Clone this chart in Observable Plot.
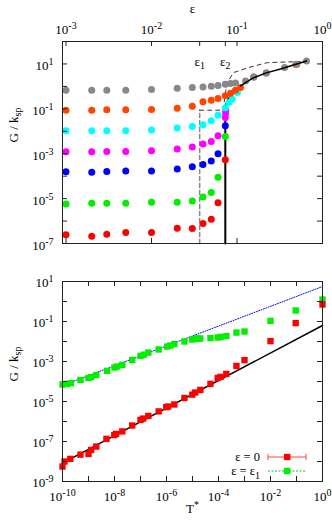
<!DOCTYPE html>
<html><head><meta charset="utf-8">
<script src="https://cdn.jsdelivr.net/npm/d3@7"></script>
<script src="https://cdn.jsdelivr.net/npm/@observablehq/plot@0.6"></script>
<style>
body{margin:0;background:#fff;}
#wrap{width:332px;height:523px;overflow:hidden;}
#wrap svg{display:block;}
</style></head><body><div id="wrap"></div>
<script>
// ---------- top panel data ----------
const eps = [0.001,0.002,0.003,0.005,0.01,0.02,0.03,0.04,0.05,0.06,0.073];
const gRed     = [2.44e-7,2.11e-7,2.59e-7,3.08e-7,3.08e-7,4.8e-7,4.64e-7,7.7e-7,1.2e-6,6.6e-6,5.4e-4];
const gGreen   = [5.8e-6,6.2e-6,6.2e-6,6.2e-6,6.85e-6,6.85e-6,7.9e-6,1.19e-5,1.85e-5,8.9e-5,5.9e-3];
const gBlue    = [1.58e-4,1.48e-4,1.63e-4,1.7e-4,1.7e-4,2.09e-4,2.64e-4,3.34e-4,4.74e-4,1.0e-3,0.0176];
const gMagenta = [0.00123,0.00123,0.00127,0.00127,0.00136,0.00162,0.00199,0.0027,0.00352,0.0063,0.041];
const gCyan    = [0.0105,0.0105,0.0105,0.0105,0.0113,0.0139,0.0163,0.0194,0.0293,0.0514,0.111];
const gOrange  = [0.0875,0.0875,0.09,0.09,0.093,0.107,0.132,0.205,0.244,0.287,0.378];
const gGray    = [0.68,0.68,0.68,0.68,0.72,0.83,0.89,0.95,1.02,1.1,1.25];
// extra points along the upper branch
const epsMagentaX = [0.0735,0.0738,0.157];  const gMagentaX = [0.065,0.09,2.6];
const epsCyanX    = [0.0805,0.088,0.101];   const gCyanX    = [0.19,0.27,0.53];
const epsOrangeX  = [0.084,0.096,0.11,0.22,0.49]; const gOrangeX = [0.5,0.68,0.885,3.9,9.5];
const epsGrayX    = [0.084,0.096,0.126,0.157,0.22,0.36,0.5,0.65];
const gGrayX      = [1.33,1.4,1.76,2.6,3.9,6.9,9.7,13.6];
const eps1 = 0.0366, eps2 = 0.073;
// critical (solid black) line
const critEps = [eps2,eps2,0.0795,0.089,0.11,0.155,0.22,0.323,0.5,0.65];
const critG   = [1e-7,0.136,0.28,0.46,1.05,2.4,4,6,10,13.6];
// dashed boundary
const dashVertEps = [eps1,eps1];          const dashVertG = [1e-7,0.087];
const dashEps = [eps1,0.069,eps2,0.077,0.091,0.136,0.226,0.386,0.55];
const dashG   = [0.087,0.087,0.5,1.48,4.1,6.9,11.4,12.3,12.6];
const topXTickVals = [1e-3,1e-2,eps1,eps2,1e-1];
const topXBotTickVals = [1e-3,1e-2,1e-1];
const topXLabels = [1e-3,1e-2,1e-1,1];
const topYTickVals = [1e-6,1e-5,1e-4,1e-3,1e-2,1e-1,1,10];
const topYLabels = [10,1e-1,1e-3,1e-5,1e-7];

// ---------- bottom panel data ----------
const T0 = [1e-10,1.2e-10,2e-10,4.9e-10,1e-9,1.26e-9,2e-9,4.9e-9,9.8e-9,1.15e-8,2e-8,4.8e-8,1e-7,1.26e-7,2e-7,5e-7,9.8e-7,1.15e-6,2e-6,4.9e-6,9.8e-6,1.26e-5,2e-5,4.9e-5,9.3e-5,1.2e-4,2e-4,4.9e-4,1e-3,1e-2,9.3e-2,1];
const G0 = [5.6e-9,1.0e-8,1.35e-8,2.2e-8,2.4e-8,3.8e-8,5.6e-8,1.35e-7,2.1e-7,2.4e-7,3.2e-7,6.3e-7,1.2e-6,1.4e-6,1.9e-6,3.2e-6,5.2e-6,5.6e-6,7.1e-6,1.5e-5,2.2e-5,2.8e-5,3.8e-5,7.6e-5,1.5e-4,1.7e-4,2.4e-4,6.0e-4,1.17e-3,0.0105,0.083,0.71];
const T1 = [1e-10,1.5e-10,2.1e-10,4.9e-10,1e-9,1.26e-9,2e-9,5.2e-9,1e-8,1.26e-8,2e-8,4.8e-8,1e-7,1.35e-7,2e-7,5e-7,1.07e-6,1.4e-6,2e-6,4.9e-6,9.8e-6,1.23e-5,1.6e-5,2e-5,4.9e-5,9.3e-5,1.2e-4,2e-4,4.9e-4,1e-3,1e-2,9.3e-2,1];
const G1 = [7.1e-5,7.6e-5,8.3e-5,1.2e-4,1.5e-4,1.66e-4,2.1e-4,3.4e-4,5.0e-4,5.6e-4,6.8e-4,1.2e-3,1.9e-3,2.2e-3,2.8e-3,4.0e-3,5.6e-3,6.3e-3,7.4e-3,0.010,0.0126,0.0135,0.0141,0.0141,0.0148,0.0158,0.017,0.0186,0.028,0.0316,0.107,0.355,1.26];
const fitT  = [1e-10,1];
const fit0G = [8.3e-9,0.063];
const fit1G = [6.3e-5,5.6];
const botXTickVals = [1e-9,1e-8,1e-7,1e-6,1e-5,1e-4,1e-3,1e-2,1e-1];
const botXLabels = [1e-10,1e-8,1e-6,1e-4,1e-2,1];
const botYTickVals = [1e-8,1e-7,1e-6,1e-5,1e-4,1e-3,1e-2,1e-1,1];
const botYLabels = [10,1e-1,1e-3,1e-5,1e-7,1e-9];
const legendLabels = ["ε = 0","ε = ε_{1}"];

// ---------- helpers ----------
const zip = (xs, ys, extra={}) => xs.map((x,i)=>({x, y: ys[i], ...extra}));
const expFmt = d => `10^{${Math.round(Math.log10(d))}}`;
const FONT = "'Liberation Serif','Times New Roman',serif";
function rich(svg){
  d3.select(svg).selectAll("text").each(function(){
    const s = this.textContent;
    if(!/[\^_]\{/.test(s)) return;
    const t = d3.select(this); t.text(null);
    const re = /([\^_])\{([^}]*)\}/g; let last=0, m, shift=0;
    const add=(str,dy,size)=>{const ts=t.append("tspan").text(str); if(dy) ts.attr("dy",dy); if(size) ts.attr("font-size",size);};
    while((m=re.exec(s))){
      if(m.index>last){ add(s.slice(last,m.index), shift? -shift : null); shift=0; }
      const d = m[1]==="^" ? -5 : 3.5;
      add(m[2], d-shift, 10); shift=d;
      last = re.lastIndex;
    }
    if(last<s.length) add(s.slice(last), shift? -shift : null);
  });
}

const series = [
  {c:"#ff0000", e:eps, g:gRed},
  {c:"#00ee00", e:eps, g:gGreen},
  {c:"#0000ff", e:eps, g:gBlue},
  {c:"#ff00ff", e:eps.concat(epsMagentaX), g:gMagenta.concat(gMagentaX)},
  {c:"#00ffff", e:eps.concat(epsCyanX), g:gCyan.concat(gCyanX)},
  {c:"#ff4500", e:eps.concat(epsOrangeX), g:gOrange.concat(gOrangeX)},
  {c:"#888888", e:eps.concat(epsGrayX), g:gGray.concat(gGrayX)}
];
const topRows = series.flatMap(s => zip(s.e, s.g, {c: s.c}));
const crit = zip(critEps, critG);
const critLow = crit.slice(0,5), critHigh = crit.slice(4);

const style = {fontFamily: FONT, fontSize: "13px", background: "#fff", overflow: "visible", color: "#000"};

const topH = 250, topMT = 41, topMB = 7, ML = 62, MR = 10;
const topInner = topH - topMT - topMB, innerW = 332 - ML - MR;

const topSvg = Plot.plot({
  width: 332, height: topH, marginTop: topMT, marginBottom: topMB, marginLeft: ML, marginRight: MR,
  style,
  x: {type: "log", domain: [0.00091, 1]},
  y: {type: "log", domain: [1e-7, 100]},
  color: {type: "identity"},
  marks: [
    Plot.line(zip(dashVertEps, dashVertG), {x:"x", y:"y", stroke:"#888", strokeWidth:1.5, strokeDasharray:"4,3"}),
    Plot.line(zip(dashEps, dashG), {x:"x", y:"y", stroke:"#333", strokeWidth:1, strokeDasharray:"4,4"}),
    Plot.line(critLow, {x:"x", y:"y", stroke:"#000", strokeWidth:2}),
    Plot.dot(topRows, {x:"x", y:"y", fill:"c", r:3.5}),
    Plot.line(critHigh, {x:"x", y:"y", stroke:"#000", strokeWidth:1.5}),
    Plot.tickX(topXTickVals, {x: d=>d, insetBottom: topInner-5, stroke:"#222"}),
    Plot.tickX(topXBotTickVals, {x: d=>d, insetTop: topInner-5, stroke:"#222"}),
    Plot.tickY(topYTickVals, {y: d=>d, insetRight: innerW-5, stroke:"#222"}),
    Plot.tickY(topYTickVals, {y: d=>d, insetLeft: innerW-5, stroke:"#222"}),
    Plot.axisX({anchor:"top", ticks: topXLabels, tickSize: 0, tickPadding: 8, tickFormat: expFmt, label: null}),
    Plot.axisY({anchor:"left", ticks: topYLabels, tickSize: 0, tickPadding: 9, dy: 2, tickFormat: expFmt, label: null}),
    Plot.text([{e:eps1, t:"ε_{1}"},{e:eps2, t:"ε_{2}"}], {x:"e", text:"t", frameAnchor:"top", lineAnchor:"bottom", dy: 24, fontSize: 13}),
    Plot.text(["ε"], {frameAnchor:"top", lineAnchor:"bottom", dy: -29, fontSize: 13}),
    Plot.text(["G / k_{sp}"], {frameAnchor:"left", dx: -49, rotate: -90, fontSize: 13}),
    Plot.frame({stroke:"#222"})
  ]
});

const botH = 273, botMT = 31, botMB = 42;
const botInner = botH - botMT - botMB;
const botSvg = Plot.plot({
  width: 332, height: botH, marginTop: botMT, marginBottom: botMB, marginLeft: ML, marginRight: MR,
  style,
  x: {type: "log", domain: [1e-10, 1]},
  y: {type: "log", domain: [1e-9, 10]},
  marks: [
    Plot.line(zip(fitT, fit1G), {x:"x", y:"y", stroke:"#0000ff", strokeWidth:1, strokeDasharray:"1,1.5"}),
    Plot.line(zip(fitT, fit0G), {x:"x", y:"y", stroke:"#000", strokeWidth:1.5}),
    Plot.dot(zip(T1, G1), {x:"x", y:"y", symbol:"square", fill:"#00ee00", r:3.6}),
    Plot.dot(zip(T0, G0), {x:"x", y:"y", symbol:"square", fill:"#ff0000", r:3.6}),
    Plot.tickX(botXTickVals, {x: d=>d, insetBottom: botInner-5, stroke:"#222"}),
    Plot.tickX(botXTickVals, {x: d=>d, insetTop: botInner-5, stroke:"#222"}),
    Plot.tickY(botYTickVals, {y: d=>d, insetRight: innerW-5, stroke:"#222"}),
    Plot.tickY(botYTickVals, {y: d=>d, insetLeft: innerW-5, stroke:"#222"}),
    Plot.axisX({anchor:"bottom", ticks: botXLabels, tickSize: 0, tickPadding: 10, tickFormat: expFmt, label: null}),
    Plot.axisY({anchor:"left", ticks: botYLabels, tickSize: 0, tickPadding: 9, dy: 1, tickFormat: expFmt, label: null}),
    Plot.text(["T^{*}"], {frameAnchor:"bottom", lineAnchor:"bottom", dy: 31, fontSize: 13}),
    Plot.text(["G / k_{sp}"], {frameAnchor:"left", dx: -49, rotate: -90, fontSize: 13}),
    Plot.frame({stroke:"#222"})
  ]
});

// legend (inside bottom panel, lower right)
{
  const g = d3.select(botSvg).append("g").attr("font-family", FONT).attr("font-size", 12.5);
  const items = [
    {label: legendLabels[0], color:"#ff0000", line:"#ff4444", dash:null, caps:true, y:207},
    {label: legendLabels[1], color:"#00ee00", line:"#00cc00", dash:"2,1.5", caps:false, y:221}
  ];
  for (const it of items) {
    g.append("text").attr("x", 260).attr("y", it.y).attr("dy","0.32em").attr("text-anchor","end").text(it.label);
    const l = g.append("line").attr("x1",268).attr("x2",306).attr("y1",it.y).attr("y2",it.y).attr("stroke",it.line).attr("stroke-width",1);
    if (it.dash) l.attr("stroke-dasharray", it.dash);
    if (it.caps) {
      g.append("line").attr("x1",268).attr("x2",268).attr("y1",it.y-3).attr("y2",it.y+3).attr("stroke",it.line);
      g.append("line").attr("x1",306).attr("x2",306).attr("y1",it.y-3).attr("y2",it.y+3).attr("stroke",it.line);
    }
    g.append("rect").attr("x",284).attr("y",it.y-3.2).attr("width",6.4).attr("height",6.4).attr("fill",it.color);
  }
}

rich(topSvg); rich(botSvg);
const wrap = document.getElementById("wrap");
wrap.appendChild(topSvg);
wrap.appendChild(botSvg);
</script>
</body></html>
